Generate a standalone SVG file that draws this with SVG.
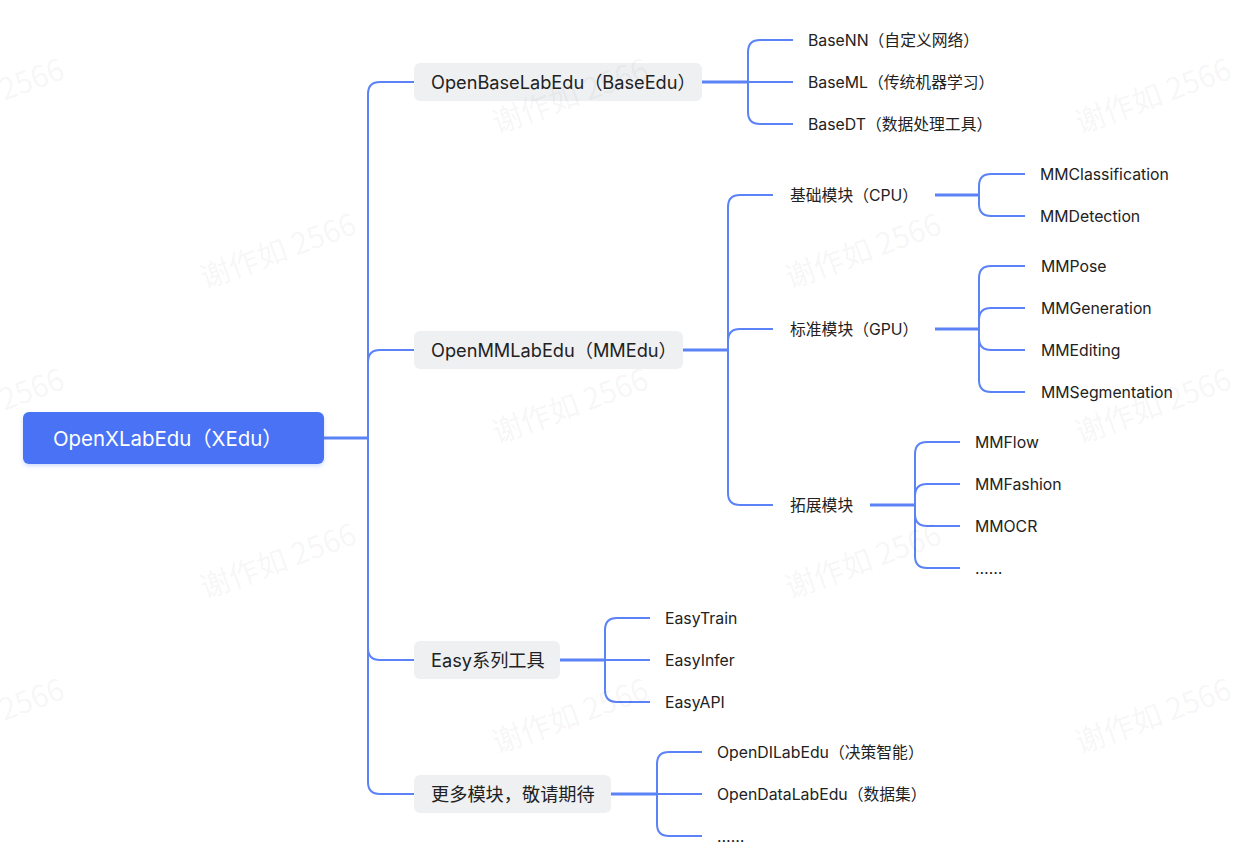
<svg xmlns="http://www.w3.org/2000/svg" width="1236" height="862" viewBox="0 0 1236 862">
<style>
text{font-family:Inter,"Noto Sans CJK SC",sans-serif;dominant-baseline:central;fill:#222222}
.l1{font-size:18.2px}
.l2{font-size:15.8px}
.root{font-size:20.4px;fill:#ffffff}
.n1{fill:#eff0f2}
.c{fill:none;stroke:#5b82f6;stroke-width:2}
.t{fill:none;stroke:#5b82f6;stroke-width:3}
.wm{font-family:"Noto Sans CJK SC",sans-serif;font-size:30px;fill:#000;fill-opacity:0.055;dominant-baseline:auto}
</style>
<defs>
<filter id="sh" x="-10%" y="-20%" width="120%" height="160%">
<feDropShadow dx="0" dy="2" stdDeviation="2" flood-color="#4a72f5" flood-opacity="0.25"/>
</filter>
</defs>
<rect width="1236" height="862" fill="#ffffff"/>
<g id="connectors">
<path class="t" d="M324,438 H368"/>
<path class="c" d="M368,438 V94 Q368,82 380,82 H414"/>
<path class="c" d="M368,438 V362 Q368,350 380,350 H414"/>
<path class="c" d="M368,438 V648 Q368,660 380,660 H414"/>
<path class="c" d="M368,438 V782 Q368,794 380,794 H414"/>
<path class="t" d="M702,82 H748"/>
<path class="c" d="M748,82 V52 Q748,40 760,40 H793"/>
<path class="c" d="M748,82 H793"/>
<path class="c" d="M748,82 V112 Q748,124 760,124 H793"/>
<path class="t" d="M683,350 H728"/>
<path class="c" d="M728,350 V207 Q728,195 740,195 H773"/>
<path class="c" d="M728,350 V341 Q728,329 740,329 H773"/>
<path class="c" d="M728,350 V493 Q728,505 740,505 H773"/>
<path class="t" d="M935,195 H979"/>
<path class="c" d="M979,195 V186 Q979,174 991,174 H1025"/>
<path class="c" d="M979,195 V204 Q979,216 991,216 H1025"/>
<path class="t" d="M935,329 H979"/>
<path class="c" d="M979,329 V278 Q979,266 991,266 H1025"/>
<path class="c" d="M979,329 V320 Q979,308 991,308 H1025"/>
<path class="c" d="M979,329 V338 Q979,350 991,350 H1025"/>
<path class="c" d="M979,329 V380 Q979,392 991,392 H1025"/>
<path class="t" d="M870,505 H915"/>
<path class="c" d="M915,505 V454 Q915,442 927,442 H960"/>
<path class="c" d="M915,505 V496 Q915,484 927,484 H960"/>
<path class="c" d="M915,505 V514 Q915,526 927,526 H960"/>
<path class="c" d="M915,505 V556 Q915,568 927,568 H960"/>
<path class="t" d="M560,660 H605"/>
<path class="c" d="M605,660 V630 Q605,618 617,618 H650"/>
<path class="c" d="M605,660 H650"/>
<path class="c" d="M605,660 V690 Q605,702 617,702 H650"/>
<path class="t" d="M611,794 H657"/>
<path class="c" d="M657,794 V764 Q657,752 669,752 H702"/>
<path class="c" d="M657,794 H702"/>
<path class="c" d="M657,794 V824 Q657,836 669,836 H702"/>
</g>
<g id="root">
<rect x="23" y="412" width="301" height="52" rx="6" fill="#4a72f5" filter="url(#sh)"/>
<text class="root" x="53" y="438">OpenXLabEdu（XEdu）</text>
</g>
<g id="baseedu">
<rect class="n1" x="414" y="63" width="288" height="38" rx="6"/>
<text class="l1" x="431" y="82">OpenBaseLabEdu（BaseEdu）</text>
</g>
<g id="basenn"><text class="l2" x="808" y="40">BaseNN（自定义网络）</text></g>
<g id="baseml"><text class="l2" x="808" y="82">BaseML（传统机器学习）</text></g>
<g id="basedt"><text class="l2" x="808" y="124">BaseDT（数据处理工具）</text></g>
<g id="mmedu">
<rect class="n1" x="414" y="331" width="269" height="38" rx="6"/>
<text class="l1" x="431" y="350">OpenMMLabEdu（MMEdu）</text>
</g>
<g id="cpu"><text class="l2" x="790" y="195">基础模块（CPU）</text></g>
<g id="mmcls"><text class="l2" x="1040" y="174">MMClassification</text></g>
<g id="mmdet"><text class="l2" x="1040" y="216">MMDetection</text></g>
<g id="gpu"><text class="l2" x="790" y="329">标准模块（GPU）</text></g>
<g id="mmpose"><text class="l2" x="1041" y="266">MMPose</text></g>
<g id="mmgen"><text class="l2" x="1041" y="308">MMGeneration</text></g>
<g id="mmedit"><text class="l2" x="1041" y="350">MMEditing</text></g>
<g id="mmseg"><text class="l2" x="1041" y="392">MMSegmentation</text></g>
<g id="ext"><text class="l2" x="790" y="505">拓展模块</text></g>
<g id="mmflow"><text class="l2" x="975" y="442">MMFlow</text></g>
<g id="mmfashion"><text class="l2" x="975" y="484">MMFashion</text></g>
<g id="mmocr"><text class="l2" x="975" y="526">MMOCR</text></g>
<g id="mmmore"><text class="l2" x="975" y="568">……</text></g>
<g id="easy">
<rect class="n1" x="414" y="641" width="146" height="38" rx="6"/>
<text class="l1" x="431" y="660">Easy系列工具</text>
</g>
<g id="easytrain"><text class="l2" x="665" y="618">EasyTrain</text></g>
<g id="easyinfer"><text class="l2" x="665" y="660">EasyInfer</text></g>
<g id="easyapi"><text class="l2" x="665" y="702">EasyAPI</text></g>
<g id="more">
<rect class="n1" x="414" y="775" width="197" height="38" rx="6"/>
<text class="l1" x="431" y="794">更多模块，敬请期待</text>
</g>
<g id="opendi"><text class="l2" x="717" y="752">OpenDILabEdu（决策智能）</text></g>
<g id="opendata"><text class="l2" x="717" y="794">OpenDataLabEdu（数据集）</text></g>
<g id="moremore"><text class="l2" x="717" y="836">……</text></g>
<g id="watermarks">
<text class="wm" x="-87" y="134" transform="rotate(-20 -87 134)">谢作如 2566</text>
<text class="wm" x="497" y="134" transform="rotate(-20 497 134)">谢作如 2566</text>
<text class="wm" x="1080" y="134" transform="rotate(-20 1080 134)">谢作如 2566</text>
<text class="wm" x="205" y="289" transform="rotate(-20 205 289)">谢作如 2566</text>
<text class="wm" x="790" y="289" transform="rotate(-20 790 289)">谢作如 2566</text>
<text class="wm" x="-87" y="444" transform="rotate(-20 -87 444)">谢作如 2566</text>
<text class="wm" x="497" y="444" transform="rotate(-20 497 444)">谢作如 2566</text>
<text class="wm" x="1080" y="444" transform="rotate(-20 1080 444)">谢作如 2566</text>
<text class="wm" x="205" y="599" transform="rotate(-20 205 599)">谢作如 2566</text>
<text class="wm" x="790" y="599" transform="rotate(-20 790 599)">谢作如 2566</text>
<text class="wm" x="-87" y="754" transform="rotate(-20 -87 754)">谢作如 2566</text>
<text class="wm" x="497" y="754" transform="rotate(-20 497 754)">谢作如 2566</text>
<text class="wm" x="1080" y="754" transform="rotate(-20 1080 754)">谢作如 2566</text>
<text class="wm" x="205" y="940" transform="rotate(-20 205 940)">谢作如 2566</text>
<text class="wm" x="790" y="940" transform="rotate(-20 790 940)">谢作如 2566</text>
</g>
</svg>
